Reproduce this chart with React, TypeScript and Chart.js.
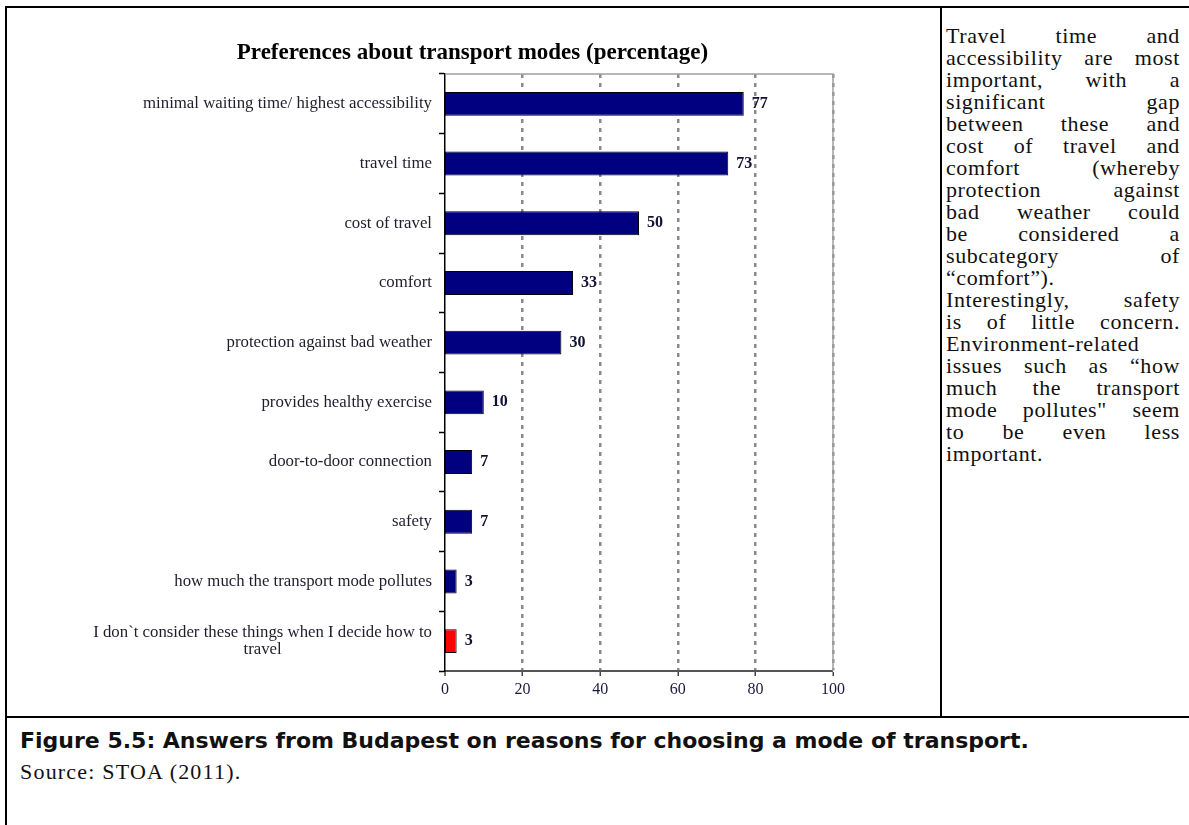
import React, { useEffect, useRef } from 'react';
import { Chart, registerables } from 'chart.js';

Chart.register(...registerables);

const chartTitle = 'Preferences about transport modes (percentage)';
const categories: (string | string[])[] = [
  'minimal waiting time/ highest accessibility',
  'travel time',
  'cost of travel',
  'comfort',
  'protection against bad weather',
  'provides healthy exercise',
  'door-to-door connection',
  'safety',
  'how much the transport mode pollutes',
  ['I don`t consider these things when I decide how to', 'travel'],
];
const values = [77, 73, 50, 33, 30, 10, 7, 7, 3, 3];
const barColors = ['#000080', '#000080', '#000080', '#000080', '#000080', '#000080', '#000080', '#000080', '#000080', '#FF0000'];
const xMin = 0;
const xMax = 100;
const xStep = 20;

const commentLines: { words: string[]; last?: boolean }[] = [
  { words: ['Travel', 'time', 'and'] },
  { words: ['accessibility', 'are', 'most'] },
  { words: ['important,', 'with', 'a'] },
  { words: ['significant', 'gap'] },
  { words: ['between', 'these', 'and'] },
  { words: ['cost', 'of', 'travel', 'and'] },
  { words: ['comfort', '(whereby'] },
  { words: ['protection', 'against'] },
  { words: ['bad', 'weather', 'could'] },
  { words: ['be', 'considered', 'a'] },
  { words: ['subcategory', 'of'] },
  { words: ['\u201Ccomfort\u201D).'], last: true },
  { words: ['Interestingly,', 'safety'] },
  { words: ['is', 'of', 'little', 'concern.'] },
  { words: ['Environment-related'] },
  { words: ['issues', 'such', 'as', '\u201Chow'] },
  { words: ['much', 'the', 'transport'] },
  { words: ['mode', 'pollutes"', 'seem'] },
  { words: ['to', 'be', 'even', 'less'] },
  { words: ['important.'], last: true },
];
const captionText = 'Figure 5.5: Answers from Budapest on reasons for choosing a mode of transport.';
const sourceText = 'Source: STOA (2011).';

const decorPlugin = {
  id: 'decor',
  beforeDatasetsDraw(chart: any) {
    const { ctx, chartArea } = chart;
    const { left, right, top, bottom } = chartArea;
    ctx.save();
    ctx.strokeStyle = '#a0a0a0';
    ctx.lineWidth = 1.5;
    ctx.setLineDash([]);
    ctx.beginPath();
    ctx.moveTo(left, top);
    ctx.lineTo(right, top);
    ctx.lineTo(right, bottom);
    ctx.stroke();
    ctx.restore();
  },
  afterDatasetsDraw(chart: any) {
    const { ctx } = chart;
    const meta = chart.getDatasetMeta(0);
    const data = chart.data.datasets[0].data as number[];
    ctx.save();
    ctx.font = 'bold 16px "Liberation Serif"';
    ctx.fillStyle = '#111133';
    ctx.textAlign = 'left';
    ctx.textBaseline = 'middle';
    meta.data.forEach((bar: any, i: number) => {
      ctx.fillText(String(data[i]), bar.x + 8, bar.y);
    });
    // category labels
    const yScale = chart.scales.y;
    const labels = chart.data.labels as (string | string[])[];
    ctx.font = '16.8px "Liberation Serif"';
    ctx.fillStyle = '#1e1e2c';
    ctx.textAlign = 'center';
    const xRight = yScale.right - 13;
    const lh = 17;
    labels.forEach((lab, i) => {
      const lines = Array.isArray(lab) ? lab : [lab];
      const widths = lines.map((l) => ctx.measureText(l).width);
      const blockW = Math.max(...widths);
      const cy = yScale.getPixelForValue(i);
      lines.forEach((l, j) => {
        ctx.fillText(l, xRight - blockW / 2, cy + (j - (lines.length - 1) / 2) * lh);
      });
    });
    ctx.restore();
  },
};

function BarChart() {
  const ref = useRef<HTMLCanvasElement | null>(null);
  useEffect(() => {
    if (!ref.current) return;
    Chart.defaults.font.family = '"Liberation Serif", serif';
    const chart = new Chart(ref.current, {
      type: 'bar',
      data: {
        labels: categories as any,
        datasets: [
          {
            data: values,
            backgroundColor: barColors,
            borderColor: '#000000',
            borderWidth: 1,
            borderSkipped: false,
            categoryPercentage: 0.8,
            barPercentage: 0.5,
          },
        ],
      },
      options: {
        indexAxis: 'y',
        responsive: false,
        animation: false,
        layout: { padding: { left: 105, right: 107, top: 0, bottom: 5 } },
        plugins: {
          legend: { display: false },
          tooltip: { enabled: false },
          title: {
            display: true,
            text: chartTitle,
            color: '#000000',
            font: { family: '"Liberation Serif", serif', size: 23, weight: 'bold' },
            padding: { top: 31, bottom: 7.4 },
          },
        },
        scales: {
          x: {
            min: xMin,
            max: xMax,
            ticks: {
              stepSize: xStep,
              color: '#1a1a40',
              font: { size: 16 },
              padding: 4,
            },
            grid: {
              color: '#8a8a8a',
              lineWidth: (c: any) => (c.tick && c.tick.value === 0 ? 0 : 2.5),
              tickColor: '#444444',
              tickLength: 5,
              tickWidth: 1.5,
            },
            border: { display: true, color: '#555555', width: 2, dash: [4, 5] },
            afterFit: (s: any) => {
              s.height = 40;
            },
          },
          y: {
            ticks: { display: false },
            grid: {
              drawOnChartArea: false,
              drawTicks: true,
              tickLength: 6,
              tickColor: '#000000',
              tickWidth: 1.5,
            },
            border: { display: true, color: '#000000', width: 1.5 },
            afterFit: (s: any) => {
              s.width = 333;
            },
          },
        },
      },
      plugins: [decorPlugin],
    });
    return () => chart.destroy();
  }, []);
  return <canvas ref={ref} width={933} height={708} style={{ display: 'block' }} />;
}

export default function App() {
  return (
    <div
      style={{
        position: 'absolute',
        left: 0,
        top: 0,
        width: 1189,
        height: 825,
        overflow: 'hidden',
        background: '#ffffff',
      }}
    >
      {/* frame lines */}
      <div style={{ position: 'absolute', left: 5, top: 6, width: 2, height: 830, background: '#000' }} />
      <div style={{ position: 'absolute', left: 5, top: 6, width: 1200, height: 2, background: '#000' }} />
      <div style={{ position: 'absolute', left: 940, top: 6, width: 2, height: 712, background: '#000' }} />
      <div style={{ position: 'absolute', left: 5, top: 716, width: 1200, height: 2, background: '#000' }} />

      <div style={{ position: 'absolute', left: 7, top: 8, width: 933, height: 708 }}>
        <BarChart />
      </div>

      <div style={{ position: 'absolute', left: 946, top: 25, width: 234 }}>
        {commentLines.map((ln, i) => (
          <div
            key={i}
            style={{
              height: 22,
              lineHeight: '22px',
              fontFamily: '"Liberation Serif", serif',
              fontSize: 22,
              letterSpacing: '0.6px',
              color: '#111',
              whiteSpace: 'nowrap',
              display: 'flex',
              justifyContent: ln.last || ln.words.length === 1 ? 'flex-start' : 'space-between',
            }}
          >
            {ln.words.map((w, j) => (
              <span key={j}>{w}</span>
            ))}
          </div>
        ))}
      </div>

      <div
        style={{
          position: 'absolute',
          left: 20,
          top: 727,
          fontFamily: '"DejaVu Sans", sans-serif',
          fontWeight: 'bold',
          fontSize: 22,
          lineHeight: '28px',
          color: '#111',
          whiteSpace: 'nowrap',
        }}
      >
        {captionText}
      </div>
      <div
        style={{
          position: 'absolute',
          left: 20,
          top: 760,
          fontFamily: '"Liberation Serif", serif',
          fontSize: 22,
          letterSpacing: '1.2px',
          lineHeight: '24px',
          color: '#111',
          whiteSpace: 'nowrap',
        }}
      >
        {sourceText}
      </div>
    </div>
  );
}
